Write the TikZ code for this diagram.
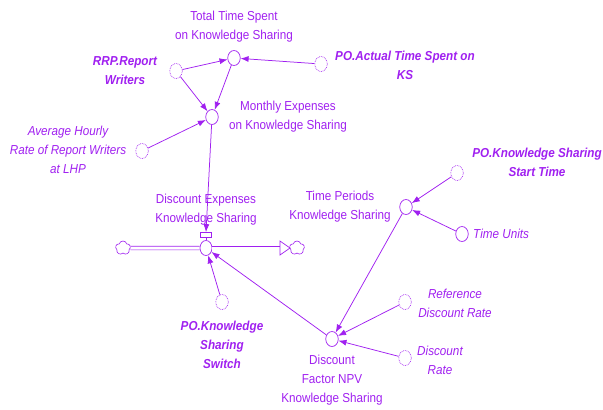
\documentclass[tikz,border=0pt]{standalone}
\usepackage{fontspec}
\setmainfont[FakeStretch=0.9]{Liberation Sans}
\usetikzlibrary{shapes.geometric,shapes.symbols,arrows.meta}
\definecolor{vpurple}{RGB}{160,32,240}
\begin{document}
\begin{tikzpicture}[x=1pt,y=-1pt,
  aux/.style={ellipse, draw=vpurple, minimum width=12.5pt, minimum height=15pt, inner sep=0pt, line width=0.7pt},
  ghost/.style={aux, densely dotted},
  lbl/.style={text=vpurple, font=\fontsize{13}{19}\selectfont, align=center, inner sep=0pt},
  lbli/.style={lbl, font=\fontsize{13}{19}\selectfont\itshape},
  lblb/.style={lbl, font=\fontsize{13}{19}\selectfont\bfseries\itshape},
  link/.style={draw=vpurple, line width=0.75pt, -{Latex[length=8pt,width=6pt]}},
  cloudy/.style={cloud, cloud puffs=5, cloud puff arc=150, draw=vpurple, line width=0.6pt, minimum width=15pt, minimum height=14pt, inner sep=0pt, aspect=1}
]
\useasboundingbox (0,0) rectangle (603,410);

% auxiliaries and shadow variables
\node[aux]   (tts)  at (234,58)  {};
\node[ghost] (rrp)  at (176,71)  {};
\node[ghost] (pat)  at (321,64)  {};
\node[aux]   (mex)  at (212,117) {};
\node[ghost] (ahr)  at (142,151) {};
\node[ghost] (sw)   at (222,302) {};
\node[aux]   (tp)   at (406,207) {};
\node[ghost] (kst)  at (457,173) {};
\node[aux]   (tu)   at (462,234) {};
\node[aux]   (df)   at (332,339) {};
\node[ghost] (rdr)  at (405,302) {};
\node[ghost] (dr)   at (405,358) {};

% flow with valve and clouds
\node[cloudy] (src) at (123,248) {};
\node[cloudy] (snk) at (297,248) {};
\node[aux, minimum width=12pt, minimum height=15pt] (valve) at (206,248) {};
\node[draw=vpurple, line width=0.7pt, minimum width=11pt, minimum height=5pt, inner sep=0pt] (vbar) at (206,235) {};
\draw[vpurple, line width=0.7pt] (vbar.south) -- (valve.north);
\draw[vpurple, line width=0.7pt, double=white, double distance=3pt] (src.east) -- (valve.west);
\draw[vpurple, line width=0.7pt, double=white, double distance=3pt] (valve.east) -- (280,248);
\coordinate (tip) at (290,248);
\draw[vpurple, line width=0.7pt, fill=white, line join=miter] (280,241) -- (tip) -- (280,255) -- cycle;

% labels
\node[lbl]  (ttsL) at (234,26.5) {Total Time Spent\\on Knowledge Sharing};
\node[lblb] (rrpL) at (125,71)   {RRP.Report\\Writers};
\node[lblb] (patL) at (405,65)   {PO.Actual Time Spent on\\KS};
\node[lbl]  (mexL) at (288,116.5){Monthly Expenses\\on Knowledge Sharing};
\node[lbli] (ahrL) at (68,150)   {Average Hourly\\Rate of Report Writers\\at LHP};
\node[lbl]  (flL)  at (206,209.5){Discount Expenses\\Knowledge Sharing};
\node[lblb] (swL)  at (222,345)  {PO.Knowledge\\Sharing\\Switch};
\node[lbl]  (tpL)  at (340,206.5){Time Periods\\Knowledge Sharing};
\node[lblb] (kstL) at (537,162.5){PO.Knowledge Sharing\\Start Time};
\node[lbli, anchor=west] (tuL) at (473,234) {Time Units};
\node[lbl]  (dfL)  at (332,380)  {Discount\\Factor NPV\\Knowledge Sharing};
\node[lbli] (rdrL) at (455,303)  {Reference\\Discount Rate};
\node[lbli] (drL)  at (440,360)  {Discount\\Rate};

% causal links
\draw[link] (rrp) -- (tts);
\draw[link] (pat) -- (tts);
\draw[link] (rrp) -- (mex);
\draw[link] (tts) -- (mex);
\draw[link] (ahr) -- (mex);
\draw[link] (mex) -- (vbar.north);
\draw[link] (sw)  -- (valve);
\draw[link] (df)  -- (valve);
\draw[link] (tp)  -- (df);
\draw[link] (kst) -- (tp);
\draw[link] (tu)  -- (tp);
\draw[link] (rdr) -- (df);
\draw[link] (dr)  -- (df);
\end{tikzpicture}
\end{document}
